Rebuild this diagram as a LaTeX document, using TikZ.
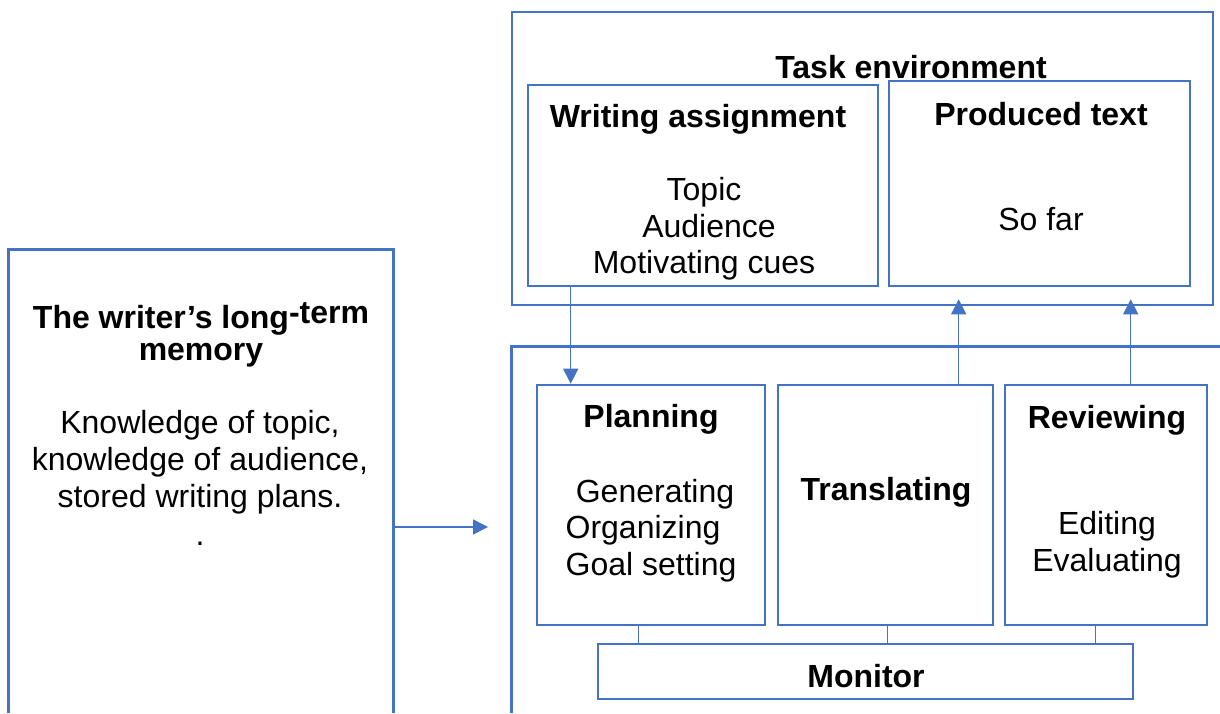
\documentclass[tikz,border=0pt]{standalone}
\usepackage{fontspec}
\setmainfont{Liberation Sans}
\usetikzlibrary{arrows.meta,fit,calc}
\definecolor{ob}{HTML}{4472C4}
\begin{document}
\begin{tikzpicture}[x=0.5pt,y=-0.5pt,
  box/.style={draw=ob,line width=1.3pt,inner sep=0pt},
  region/.style={inner sep=0pt},
  conn/.style={draw=ob,line width=0.75pt},
  arr/.style={conn,-{Triangle[length=7.5pt,width=7.5pt]}},
  ttl/.style={font=\fontsize{16}{18.5}\selectfont\bfseries,anchor=base,inner sep=0pt},
  txt/.style={font=\fontsize{16}{18.5}\selectfont,anchor=base,inner sep=0pt}]
\fill[white] (0,0) rectangle (1220,713);
\useasboundingbox (0,0) rectangle (1220,713);

% long-term memory (open at bottom)
\node[region,fit={(9,250)(393,713)}] (ltm) {};
\draw[box] (ltm.south west) -- (ltm.north west) -- (ltm.north east) -- (ltm.south east);
\node[ttl] (ltmt1) at (201,328) {The writer’s long\raisebox{2.5pt}{-term}};
\node[ttl] (ltmt2) at (201,360) {memory};
\node[txt] (ltmb1) at (200,433) {Knowledge of topic,};
\node[txt] (ltmb2) at (200,470) {knowledge of audience,};
\node[txt] (ltmb3) at (200,507) {stored writing plans.};
\node[txt] (ltmb4) at (200,545) {.};

% task environment
\node[box,fit={(512,12)(1213,305)}] (te) {};
\node[ttl] (tet) at (911,78) {Task environment};
\node[box,fit={(528,85)(878,286)}] (wa) {};
\node[ttl] (wat) at (698,127) {Writing assignment};
\node[txt] (wa1) at (704,200) {Topic};
\node[txt] (wa2) at (709,237) {Audience};
\node[txt] (wa3) at (704,273) {Motivating cues};
\node[box,fit={(889,81)(1190,286)}] (pt) {};
\node[ttl] (ptt) at (1041,125) {Produced text};
\node[txt] (pt1) at (1041,230) {So far};

% processing region (open at right and bottom)
\node[region,fit={(512,347)(1220,713)}] (proc) {};
\draw[box] (proc.south west) -- (proc.north west) -- (proc.north east);

\node[box,fit={(537,385)(765,625)}] (plan) {};
\node[ttl] (plant) at (651,427) {Planning};
\node[txt] (plan1) at (655,502) {Generating};
\node[txt] (plan2) at (643,538) {Organizing};
\node[txt] (plan3) at (651,575) {Goal setting};

\node[box,fit={(778,385)(993,625)}] (tr) {};
\node[ttl] (trt) at (886,500) {Translating};

\node[box,fit={(1005,385)(1207,625)}] (rev) {};
\node[ttl] (revt) at (1107,428) {Reviewing};
\node[txt] (rev1) at (1107,534) {Editing};
\node[txt] (rev2) at (1107,571) {Evaluating};

\node[box,fit={(598,644)(1133,699)}] (mon) {};
\node[ttl] (mont) at (866,687) {Monitor};

% connectors
\coordinate (ltmend) at (488,527);
\draw[arr] (ltm.east |- ltmend) -- (ltmend);
\draw[arr] ($(wa.south west)+(44,0)$) -- ($(plan.north west)+(35,0)$);
\draw[arr] ($(tr.north west)+(182,0)$) -- ($(te.south west)+(448,-7)$);
\draw[arr] ($(rev.north west)+(127,0)$) -- ($(te.south west)+(620,-7)$);
\draw[conn] ($(plan.south west)+(103,0)$) -- ($(mon.north west)+(42,0)$);
\draw[conn] ($(tr.south west)+(111,0)$) -- ($(mon.north west)+(291,0)$);
\draw[conn] ($(rev.south west)+(92,0)$) -- ($(mon.north west)+(499,0)$);
\end{tikzpicture}
\end{document}
